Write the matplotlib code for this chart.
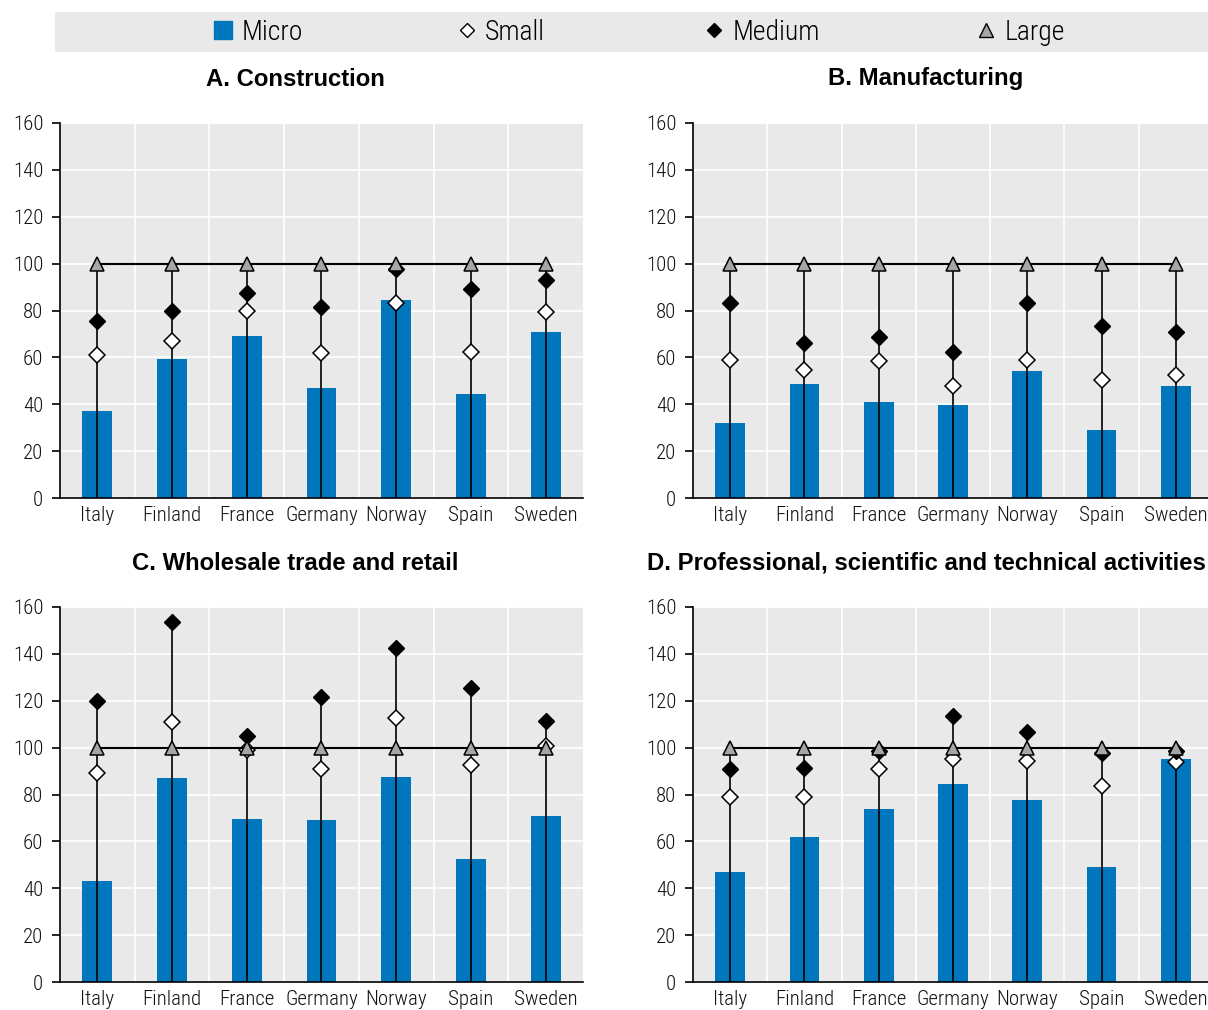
import numpy as np
import matplotlib.pyplot as plt
from matplotlib.lines import Line2D
from matplotlib.patches import Rectangle

plt.rcParams['font.family'] = ['Roboto Condensed', 'DejaVu Sans']

countries = ["Italy", "Finland", "France", "Germany", "Norway", "Spain", "Sweden"]

# A. Construction
micro_a = [37, 59.5, 69, 47, 84.5, 44.5, 71]
small_a = [61, 67, 80, 62, 83, 62.5, 79.5]
medium_a = [75.5, 80, 87.5, 81.5, 97.5, 89, 93]
large_a = [100, 100, 100, 100, 100, 100, 100]

# B. Manufacturing
micro_b = [32, 48.5, 41, 39.5, 54, 29, 48]
small_b = [59, 54.5, 58.5, 48, 59, 50.5, 52.5]
medium_b = [83, 66, 68.5, 62.5, 83, 73.5, 71]
large_b = [100, 100, 100, 100, 100, 100, 100]

# C. Wholesale trade and retail
micro_c = [43, 87, 69.5, 69, 87.5, 52.5, 71]
small_c = [89, 111, 99, 91, 112.5, 92.5, 100.5]
medium_c = [120, 153.5, 105, 121.5, 142.5, 125.5, 111.5]
large_c = [100, 100, 100, 100, 100, 100, 100]

# D. Professional, scientific and technical activities
micro_d = [47, 62, 74, 84.5, 77.5, 49, 95]
small_d = [79, 79, 91, 95, 94.5, 83.5, 94]
medium_d = [91, 91.5, 98.5, 113.5, 106.5, 97.5, 98.5]
large_d = [100, 100, 100, 100, 100, 100, 100]

titles = ["A. Construction", "B. Manufacturing",
          "C. Wholesale trade and retail",
          "D. Professional, scientific and technical activities"]

panels = [
    (micro_a, small_a, medium_a, large_a),
    (micro_b, small_b, medium_b, large_b),
    (micro_c, small_c, medium_c, large_c),
    (micro_d, small_d, medium_d, large_d),
]

blue = "#0077bd"
bg = "#e9e9e9"
tri_grey = "#a6a6a6"

W, H = 1208, 1010
fig = plt.figure(figsize=(W / 100, H / 100), dpi=100)

# axes boxes in pixels: left, top, right, bottom
boxes = [(60, 123, 583, 498), (693, 123, 1213, 498),
         (60, 607, 583, 982), (693, 607, 1213, 982)]
title_pos = [(295, 79), (926, 79), (295, 563), (926, 563)]

x = np.arange(len(countries))

for (l, t, r, b), (micro, small, medium, large), title, (tx, ty) in zip(
        boxes, panels, titles, title_pos):
    ax = fig.add_axes([l / W, 1 - b / H, (r - l) / W, (b - t) / H])
    ax.set_facecolor(bg)

    ax.bar(x, micro, width=0.4, color=blue, zorder=2)
    tops = np.max([small, medium, large], axis=0)
    ax.vlines(x, 0, tops, color="black", lw=1.2, zorder=3)
    ax.plot(x, small, ls="none", marker="D", ms=8.3, mfc="white",
            mec="black", mew=1.1, zorder=4)
    ax.plot(x, medium, ls="none", marker="D", ms=8.3, mfc="black",
            mec="black", zorder=5)
    ax.plot(x, large, color="black", lw=1.5, marker="^", ms=10.5,
            mfc=tri_grey, mec="black", mew=1.1, zorder=6)

    ax.set_xlim(-0.5, len(countries) - 0.5)
    ax.set_ylim(0, 160)
    ax.set_yticks(range(0, 161, 20))
    ax.set_xticks(x)
    ax.set_xticklabels(countries)
    ax.set_xticks(np.arange(0.5, len(countries) - 1, 1), minor=True)
    ax.grid(axis="y", which="major", color="white", lw=1.2, zorder=0)
    ax.grid(axis="x", which="minor", color="white", lw=1.2, zorder=0)
    ax.set_axisbelow(True)

    for side in ["top", "right"]:
        ax.spines[side].set_visible(False)
    ax.spines["left"].set_linewidth(1.2)
    ax.spines["bottom"].set_linewidth(1.2)
    ax.tick_params(axis="y", which="major", length=6, width=1.2,
                   labelsize=15, pad=6, labelcolor="#111111")
    ax.tick_params(axis="x", which="both", length=0, labelsize=15, pad=6,
                   labelcolor="#111111")
    for lab in ax.get_xticklabels() + ax.get_yticklabels():
        lab.set_fontweight(300)

    fig.text(tx / W, 1 - ty / H, title, ha="center", va="center",
             fontsize=17.2, fontweight="bold", family="Liberation Sans")

# legend band across the top
fig.patches.append(Rectangle((55 / W, 1 - 52 / H), (W - 55) / W, 40 / H,
                             transform=fig.transFigure, facecolor=bg,
                             edgecolor="none", zorder=0))
handles = [
    Line2D([], [], ls="none", marker="s", ms=13, mfc=blue, mec=blue),
    Line2D([], [], ls="none", marker="D", ms=7.5, mfc="white", mec="black"),
    Line2D([], [], ls="none", marker="D", ms=7.5, mfc="black", mec="black"),
    Line2D([], [], ls="none", marker="^", ms=10, mfc=tri_grey, mec="black"),
]
labels = ["Micro", "Small", "Medium", "Large"]
legend_x = [212, 456, 703, 975]
for h, lab, lx in zip(handles, labels, legend_x):
    leg = fig.legend([h], [lab], loc="center left",
                     bbox_to_anchor=(lx / W, 1 - 32 / H), frameon=False,
                     fontsize=20, handlelength=0.8, handletextpad=0.25,
                     borderpad=0, borderaxespad=0)
    for txt in leg.get_texts():
        txt.set_fontweight(300)

fig.savefig("out.png", dpi=100)
